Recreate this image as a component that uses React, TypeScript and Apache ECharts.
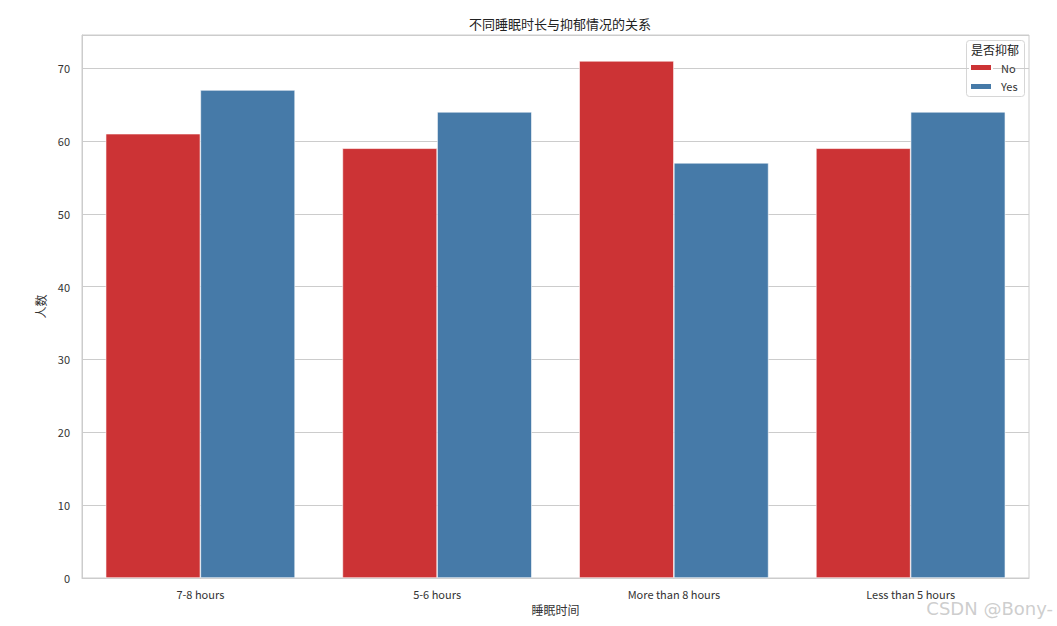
import React, { useEffect, useRef } from "react";
import * as echarts from "echarts";

const categories = ["7-8 hours", "5-6 hours", "More than 8 hours", "Less than 5 hours"];
const noValues = [61, 59, 71, 59];
const yesValues = [67, 64, 57, 64];
const seriesNames = ["No", "Yes"];
const yTicks = [0, 10, 20, 30, 40, 50, 60, 70];

const FONT = "'Noto Sans CJK SC', 'Noto Sans', sans-serif";

export default function App() {
  const ref = useRef<HTMLDivElement>(null);
  useEffect(() => {
    document.body.style.margin = "0";
    const chart = echarts.init(ref.current!, null, { renderer: "svg" });
    chart.setOption({
      animation: false,
      textStyle: { fontFamily: FONT },
      title: {
        text: "不同睡眠时长与抑郁情况的关系",
        left: 555,
        top: 12,
        textAlign: "center",
        textStyle: { fontSize: 13, fontWeight: "normal", color: "#222", fontFamily: FONT },
      },
      grid: {
        left: 82,
        right: 28,
        top: 35,
        bottom: 48,
        show: true,
        borderColor: "#cccccc",
        borderWidth: 1,
      },
      legend: {
        data: seriesNames,
        orient: "vertical",
        left: 969,
        top: 62,
        padding: 0,
        icon: "rect",
        itemWidth: 22,
        itemHeight: 7,
        itemGap: 8,
        textStyle: { fontSize: 11, color: "#333", fontFamily: FONT, padding: [0, 0, 0, 4] },
      },
      xAxis: {
        type: "category",
        data: categories,
        name: "睡眠时间",
        nameLocation: "middle",
        nameGap: 25,
        nameTextStyle: { fontSize: 12, color: "#333", fontFamily: FONT },
        axisLine: { show: true, lineStyle: { color: "#cccccc" } },
        axisTick: { show: false },
        axisLabel: { fontSize: 11, color: "#333", margin: 10, fontFamily: FONT },
      },
      yAxis: {
        type: "value",
        min: 0,
        max: 74.55,
        interval: 10,
        name: "人数",
        nameLocation: "middle",
        nameGap: 27,
        nameRotate: 90,
        nameTextStyle: { fontSize: 12, color: "#333", fontFamily: FONT },
        axisLine: { show: true, lineStyle: { color: "#cccccc" } },
        axisTick: { show: false },
        axisLabel: {
          fontSize: 11,
          color: "#333",
          margin: 12,
          fontFamily: FONT,
          formatter: (v: number) => (yTicks.includes(v) ? String(v) : ""),
        },
        splitLine: { show: true, lineStyle: { color: "#cccccc" } },
      },
      series: [
        {
          name: seriesNames[0],
          type: "bar",
          data: noValues,
          barCategoryGap: "20%",
          barGap: "0%",
          itemStyle: { color: "#cc3335", borderColor: "#ffffff", borderWidth: 0.6 },
        },
        {
          name: seriesNames[1],
          type: "bar",
          data: yesValues,
          barCategoryGap: "20%",
          barGap: "0%",
          itemStyle: { color: "#467aa8", borderColor: "#ffffff", borderWidth: 0.6 },
        },
      ],
      graphic: [
        {
          type: "rect",
          shape: { x: 966.5, y: 40.5, width: 58, height: 56, r: 3 },
          style: { fill: "rgba(255,255,255,0.8)", stroke: "#d6d6d6", lineWidth: 1 },
          z: 0,
          silent: true,
        },
        {
          type: "text",
          x: 995,
          y: 43,
          style: {
            text: "是否抑郁",
            fontSize: 12,
            fill: "#222",
            textAlign: "center",
            fontFamily: FONT,
          },
          z: 10,
        },
        {
          type: "text",
          right: 4,
          top: 599,
          style: {
            text: "CSDN @Bony-",
            fontSize: 18,
            fill: "rgba(200,200,200,0.9)",
            fontFamily: "'DejaVu Sans', sans-serif",
          },
          z: 10,
        },
      ],
    });
    return () => chart.dispose();
  }, []);
  return <div ref={ref} style={{ width: 1057, height: 626 }} />;
}
